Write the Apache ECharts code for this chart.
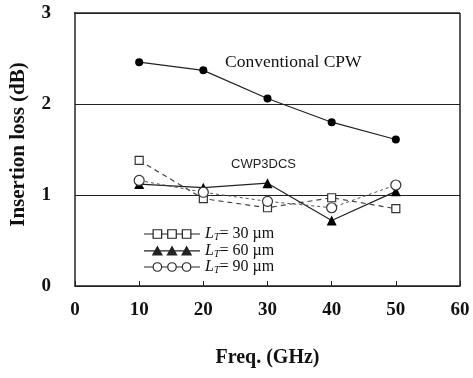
<!DOCTYPE html>
<html><head><meta charset="utf-8">
<script src="https://cdn.jsdelivr.net/npm/echarts@6/dist/echarts.min.js"></script>
<style>html,body{margin:0;padding:0;background:#fff}#c{width:473px;height:378px}</style>
</head><body><div id="c"></div>
<script>
const freq = [10, 20, 30, 40, 50];
const conventionalCPW = [2.46, 2.37, 2.06, 1.80, 1.61];
const lt30 = [1.38, 0.96, 0.86, 0.97, 0.85];
const lt60 = [1.12, 1.08, 1.13, 0.72, 1.04];
const lt90 = [1.16, 1.03, 0.93, 0.86, 1.11];
const legendNames = ['30', '60', '90'];

const pairs = a => freq.map((f, i) => [f, a[i]]);
const serif = 'Liberation Serif';
const cxs = [11, 23, 35];
const seg = (a, b) => `M${a} 4.5L${b} 4.5L${b} 5.5L${a} 5.5Z`;
const sqRing = c => `M${c-4} 1L${c+4} 1L${c+4} 9L${c-4} 9Z M${c-3} 2L${c-3} 8L${c+3} 8L${c+3} 2Z`;
const tri = c => `M${c} 0.5L${c+4.6} 8.8L${c-4.6} 8.8Z`;
const ring = c => `M${c-4} 5A4 4 0 1 1 ${c+4} 5A4 4 0 1 1 ${c-4} 5Z M${c-3} 5A3 3 0 1 0 ${c+3} 5A3 3 0 1 0 ${c-3} 5Z`;
const gapSegs = seg(0, 7) + seg(15, 19) + seg(27, 31) + seg(39, 46);
const icon30 = 'path://' + gapSegs + cxs.map(sqRing).join('');
const icon60 = 'path://' + seg(0, 46) + cxs.map(tri).join('');
const icon90 = 'path://' + gapSegs + cxs.map(ring).join('');

const chart = echarts.init(document.getElementById('c'));
const legendLabel = n => '{i|L}{s|T}{t|= ' + n + ' \u00b5m}';
const iconStyle = {color: '#222', borderWidth: 0, borderColor: 'transparent'};
chart.setOption({
  animation: false,
  backgroundColor: '#fff',
  grid: {left: 74, right: 13, top: 13, bottom: 92},
  xAxis: {
    type: 'value', min: 0, max: 60, interval: 10,
    name: 'Freq. (GHz)', nameLocation: 'middle', nameGap: 62,
    nameTextStyle: {fontFamily: serif, fontWeight: 'bold', fontSize: 20, color: '#111'},
    axisLine: {show: true, lineStyle: {color: '#222', width: 1.5}},
    axisTick: {show: true, inside: true, length: 5, lineStyle: {color: '#222'}},
    axisLabel: {fontFamily: serif, fontWeight: 'bold', fontSize: 19, color: '#111', margin: 15},
    splitLine: {show: false}
  },
  yAxis: {
    type: 'value', min: 0, max: 3, interval: 1,
    name: 'Insertion loss (dB)', nameLocation: 'middle', nameGap: 46, nameRotate: 90,
    nameTextStyle: {fontFamily: serif, fontWeight: 'bold', fontSize: 21, color: '#111', padding: [0, 0, 0, 10]},
    axisLine: {show: true, lineStyle: {color: '#222', width: 1.5}},
    axisTick: {show: false},
    axisLabel: {fontFamily: serif, fontWeight: 'bold', fontSize: 19, color: '#111', margin: 24},
    splitLine: {show: true, lineStyle: {color: '#222', width: 1.2}}
  },
  legend: {
    left: 139, top: 221, orient: 'vertical', itemGap: 0, itemWidth: 56, itemHeight: 11,
    data: [
      {name: 'LT30', icon: icon30, itemStyle: iconStyle},
      {name: 'LT60', icon: icon60, itemStyle: iconStyle},
      {name: 'LT90', icon: icon90, itemStyle: iconStyle}
    ],
    formatter: name => legendLabel(name.slice(2)),
    textStyle: {
      color: '#111',
      rich: {
        i: {fontFamily: serif, fontStyle: 'italic', fontSize: 16},
        s: {fontFamily: serif, fontStyle: 'italic', fontSize: 10, verticalAlign: 'bottom', padding: [7, 0, 0, 0]},
        t: {fontFamily: serif, fontSize: 16}
      }
    }
  },
  graphic: [
    {type: 'text', left: 225, top: 53, style: {text: 'Conventional CPW', font: '17.5px "Liberation Serif"', fill: '#111'}},
    {type: 'text', left: 231, top: 158, style: {text: 'CWP3DCS', font: '13px "Liberation Sans"', fill: '#222'}},
    {type: 'line', shape: {x1: 74, y1: 13, x2: 460, y2: 13}, style: {stroke: '#222', lineWidth: 1.5}},
    {type: 'line', shape: {x1: 460, y1: 13, x2: 460, y2: 286}, style: {stroke: '#222', lineWidth: 1.5}}
  ],
  series: [
    {name: 'CPW', type: 'line', data: pairs(conventionalCPW), symbol: 'circle', symbolSize: 8,
     itemStyle: {color: '#000'}, lineStyle: {color: '#222', width: 1.2}},
    {name: 'LT30', type: 'line', data: pairs(lt30), symbol: 'rect', symbolSize: 8,
     itemStyle: {color: '#fff', borderColor: '#333', borderWidth: 1.2}, lineStyle: {color: '#444', width: 1.2, type: [5, 4]}},
    {name: 'LT60', type: 'line', data: pairs(lt60), symbol: 'triangle', symbolSize: 10,
     itemStyle: {color: '#000'}, lineStyle: {color: '#222', width: 1.2}},
    {name: 'LT90', type: 'line', data: pairs(lt90), symbol: 'circle', symbolSize: 10,
     itemStyle: {color: '#fff', borderColor: '#333', borderWidth: 1.2}, lineStyle: {color: '#555', width: 1, type: [3, 3]}}
  ]
});
</script></body></html>
